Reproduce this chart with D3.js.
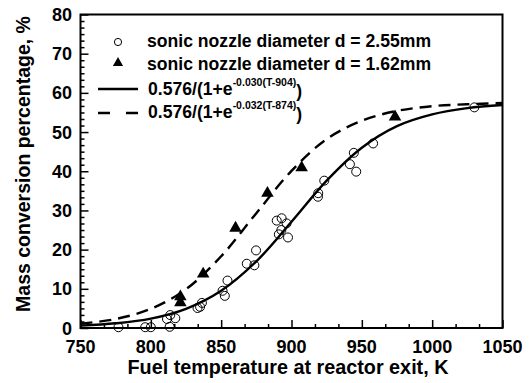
<!DOCTYPE html>
<html>
<head>
<meta charset="utf-8">
<script src="https://cdn.jsdelivr.net/npm/d3@7"></script>
<style>
  html, body { margin: 0; padding: 0; background: #fff; }
  svg { display: block; }
  text { font-family: "Liberation Sans", Arial, sans-serif; font-weight: bold; fill: #000; }
</style>
</head>
<body>
<svg id="chart" width="530" height="383"></svg>
<script>
// ---- Data ----
const xTicks = [750, 800, 850, 900, 950, 1000, 1050];
const yTicks = [0, 10, 20, 30, 40, 50, 60, 70, 80];

// d = 2.55 mm (open circles)
const tempsA  = [777, 796, 800, 811.5, 813.8, 817.4, 813.4, 833.2, 836.3, 835, 851, 852.6, 854.5, 868.2, 873.6, 874.8, 889.5, 893, 896.5, 892.8, 891, 897.5, 918.8, 919, 923.3, 941.5, 944.3, 946, 958, 1030];
const valuesA = [0.2, 0.2, 0.2, 2.3, 3.3, 2.5, 0.3, 5.1, 6.4, 5.4, 9.5, 8.2, 12.1, 16.4, 16.0, 19.8, 27.4, 28.0, 26.7, 25.0, 23.9, 23.1, 33.5, 34.4, 37.6, 41.8, 44.7, 39.9, 47.1, 56.3];

// d = 1.62 mm (filled triangles)
const tempsB  = [821, 821, 837.2, 860.2, 882.9, 907.2, 973.6];
const valuesB = [6.5, 8.0, 13.8, 25.5, 34.4, 40.9, 53.9];

// fitted curves
const curveT      = [750, 775, 800, 825, 850, 875, 900, 925, 950, 975, 1000, 1025, 1050];
const curveSolid  = [0.6, 1.2, 2.4, 4.9, 9.5, 17.0, 27.1, 37.6, 46.0, 51.5, 54.5, 56.1, 56.9];
const curveDashed = [1.1, 2.3, 4.9, 9.9, 18.3, 29.3, 40.1, 48.2, 52.9, 55.4, 56.6, 57.1, 57.4];

const legendLabels = ["sonic nozzle diameter d = 2.55mm", "sonic nozzle diameter d = 1.62mm"];
const formulaMain = "0.576/(1+e";
const formulaSup = ["-0.030(T-904)", "-0.032(T-874)"];
const xTitle = "Fuel temperature at reactor exit, K";
const yTitle = "Mass conversion percentage, %";

// ---- Layout ----
const L = 80.5, R = 502.5, T = 14.5, B = 328;
const svg = d3.select("#chart");
const x = d3.scaleLinear().domain([750, 1050]).range([L, R]);
const y = d3.scaleLinear().domain([0, 80]).range([B, T]);

// minor ticks
const xMinor = d3.range(0, 19).map(i => 750 + i * 50 / 3).filter(v => !xTicks.some(t => Math.abs(t - v) < 1e-6));
const yMinor = d3.range(0, 49).map(i => i * 10 / 6).filter(v => !yTicks.some(t => Math.abs(t - v) < 1e-6));

// axes (inward ticks)
const gx = svg.append("g").attr("transform", `translate(0,${B})`);
gx.call(d3.axisTop(x).tickValues(xMinor).tickSize(4).tickFormat(""));
gx.select(".domain").remove();
const gx2 = svg.append("g").attr("transform", `translate(0,${B})`);
gx2.call(d3.axisTop(x).tickValues(xTicks).tickSize(8).tickFormat(""));
gx2.select(".domain").remove();

const gy = svg.append("g").attr("transform", `translate(${L},0)`);
gy.call(d3.axisRight(y).tickValues(yMinor).tickSize(4).tickFormat(""));
gy.select(".domain").remove();
const gy2 = svg.append("g").attr("transform", `translate(${L},0)`);
gy2.call(d3.axisRight(y).tickValues(yTicks).tickSize(8).tickFormat(""));
gy2.select(".domain").remove();
svg.selectAll("g line").attr("stroke", "#000").attr("stroke-width", 1.5);

// tick labels
svg.append("g").selectAll("text").data(xTicks).join("text")
  .attr("x", d => x(d)).attr("y", 353)
  .attr("text-anchor", "middle").attr("font-size", 18).text(d => d);
svg.append("g").selectAll("text").data(yTicks).join("text")
  .attr("x", 72).attr("y", d => y(d) + 6.5)
  .attr("text-anchor", "end").attr("font-size", 18).text(d => d);

// titles
svg.append("text").attr("x", 288).attr("y", 374).attr("text-anchor", "middle")
  .attr("font-size", 19.8).text(xTitle);
svg.append("text").attr("transform", "translate(30,164) rotate(-90)").attr("text-anchor", "middle")
  .attr("font-size", 19.5).text(yTitle);

// clip for curves
svg.append("clipPath").attr("id", "clip").append("rect")
  .attr("x", L).attr("y", T).attr("width", R - L).attr("height", B - T);

const line = d3.line().x(d => x(d[0])).y(d => y(d[1])).curve(d3.curveCatmullRom);
const plot = svg.append("g").attr("clip-path", "url(#clip)");
plot.append("path").datum(curveT.map((t, i) => [t, curveSolid[i]]))
  .attr("d", line).attr("fill", "none").attr("stroke", "#000").attr("stroke-width", 2.4);
plot.append("path").datum(curveT.map((t, i) => [t, curveDashed[i]]))
  .attr("d", line).attr("fill", "none").attr("stroke", "#000").attr("stroke-width", 2.4)
  .attr("stroke-dasharray", "12,7");

// points
svg.append("g").selectAll("circle").data(tempsA.map((t, i) => [t, valuesA[i]])).join("circle")
  .attr("cx", d => x(d[0])).attr("cy", d => y(d[1])).attr("r", 4.5)
  .attr("fill", "none").attr("stroke", "#000").attr("stroke-width", 1);
const tri = d3.symbol().type(d3.symbolTriangle).size(68);
svg.append("g").selectAll("path").data(tempsB.map((t, i) => [t, valuesB[i]])).join("path")
  .attr("transform", d => `translate(${x(d[0])},${y(d[1])})`).attr("d", tri).attr("fill", "#000");

// frame
svg.append("rect").attr("x", L).attr("y", T).attr("width", R - L).attr("height", B - T)
  .attr("fill", "none").attr("stroke", "#000").attr("stroke-width", 2);

// legend
const lg = svg.append("g");
lg.append("circle").attr("cx", 118).attr("cy", 42).attr("r", 3.6)
  .attr("fill", "none").attr("stroke", "#000").attr("stroke-width", 1);
lg.append("path").attr("transform", "translate(118,63)")
  .attr("d", d3.symbol().type(d3.symbolTriangle).size(45)).attr("fill", "#000");
lg.append("text").attr("x", 147).attr("y", 47).attr("font-size", 17.6).text(legendLabels[0]);
lg.append("text").attr("x", 147).attr("y", 70).attr("font-size", 17.6).text(legendLabels[1]);
lg.append("line").attr("x1", 98).attr("x2", 138).attr("y1", 89).attr("y2", 89)
  .attr("stroke", "#000").attr("stroke-width", 2.4);
lg.append("line").attr("x1", 98).attr("x2", 138).attr("y1", 113).attr("y2", 113)
  .attr("stroke", "#000").attr("stroke-width", 2.4).attr("stroke-dasharray", "12,16");
[95, 118].forEach((yy, i) => {
  const t = lg.append("text").attr("x", 148).attr("y", yy).attr("font-size", 17.6);
  t.append("tspan").text(formulaMain);
  t.append("tspan").attr("font-size", 10.5).attr("dy", -9).text(formulaSup[i]);
  t.append("tspan").attr("dy", 11).text(")");
});
</script>
</body>
</html>
